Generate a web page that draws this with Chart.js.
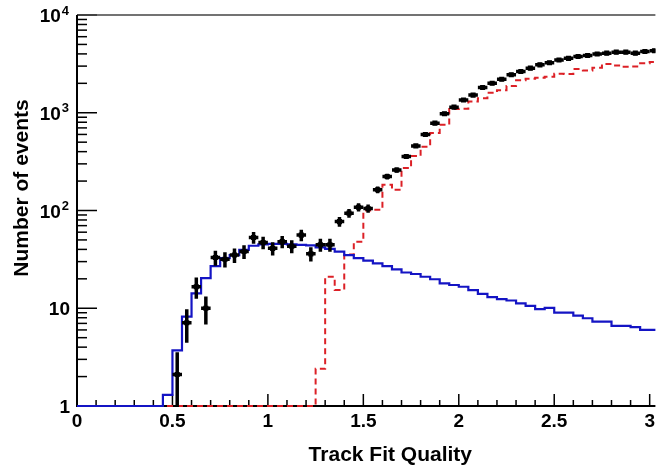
<!DOCTYPE html>
<html>
<head>
<meta charset="utf-8">
<script src="https://cdn.jsdelivr.net/npm/chart.js@4.4.1/dist/chart.umd.min.js"></script>
<style>
  html, body { margin: 0; padding: 0; background: #fff; }
</style>
</head>
<body>
<canvas id="fitq" width="659" height="466"></canvas>
<script>
// histogram binning: 61 bins of 0.05 starting at 0
const BIN_START = 0;
const BIN_WIDTH = 0.05;

// simulated signal (blue, solid)
const signalMC = [
  1, 1, 1, 1, 1, 1, 1, 1, 1, 1.3,
  3.7, 8.2, 14.2, 20.3, 27, 32.5, 35, 39.5, 43.6, 45,
  45.5, 45.5, 45, 44.5, 44, 42, 40.5, 38, 35, 32.5,
  30.7, 28.8, 27, 25, 23.2, 22.4, 21, 19.8, 18, 17.3,
  16.6, 15.3, 14, 13, 12.4, 12, 11.2, 10.6, 9.8, 10.1,
  9.0, 9.0, 8.4, 7.9, 7.3, 7.3, 6.6, 6.6, 6.4, 6.0,
  6.0
];

// simulated background (red, dashed)
const backgroundMC = [
  1, 1, 1, 1, 1, 1, 1, 1, 1, 1,
  1, 1, 1, 1, 1, 1, 1, 1, 1, 1,
  1, 1, 1, 1, 1, 2.4, 21, 15.4, 35.5, 48,
  100, 102, 183, 163, 272, 360, 450, 620, 755, 1090,
  1100, 1300, 1410, 1600, 1700, 1880, 2150, 2230, 2280, 2340,
  2500, 2490, 2800, 2700, 2890, 3150, 3050, 2950, 2980, 3200,
  3300
];

// measured events (black crosses), null where the bin is empty
const measured = [
  null, null, null, null, null, null, null, null, null, null,
  2.1, 7.1, 16.6, 10, 33, 31.7, 35, 38, 53, 47,
  41, 48, 43, 56, 36, 44.6, 44.6, 77, 94, 108,
  105, 163, 223, 260, 357, 458, 600, 783, 978, 1141,
  1350, 1515, 1815, 2000, 2200, 2450, 2640, 2860, 3090, 3250,
  3460, 3600, 3760, 3850, 3990, 4070, 4170, 4170, 4070, 4230,
  4300
];

const xMajorTicks = [0, 0.5, 1, 1.5, 2, 2.5, 3];
const xTickLabels = ['0', '0.5', '1', '1.5', '2', '2.5', '3'];
const yDecades = [1, 10, 100, 1000, 10000];
const yTickLabels = [['1', ''], ['10', ''], ['10', '2'], ['10', '3'], ['10', '4']];

const FONT = '"Liberation Sans", Arial, Helvetica, sans-serif';
const BLUE = '#1414c4';
const RED = '#dc2026';

const edge = (i) => +(BIN_START + i * BIN_WIDTH).toFixed(4);

// histogram outline: one point per low edge, plus the closing edge
function histPoints(values) {
  const pts = values.map((v, i) => ({ x: edge(i), y: v }));
  pts.push({ x: edge(values.length), y: values[values.length - 1] });
  return pts;
}

const dataPoints = measured
  .map((v, i) => (v == null ? null : { x: edge(i) + BIN_WIDTH / 2, y: v }))
  .filter(Boolean);

// ROOT-style frame: inward ticks, labels with exponents, axis titles
const frame = {
  id: 'frame',
  beforeDatasetsDraw(chart) {
    const { ctx, chartArea: a, scales: { x, y } } = chart;
    ctx.save();
    ctx.strokeStyle = '#000';
    ctx.lineWidth = 1.5;

    // minor / major ticks on x
    for (let t = 0; t <= 30; t++) {
      const v = t / 10;
      const px = x.getPixelForValue(v);
      const len = t % 5 === 0 ? 12 : 6;
      ctx.beginPath();
      ctx.moveTo(px, a.bottom);
      ctx.lineTo(px, a.bottom - len);
      ctx.stroke();
    }

    // decades and sub-decade ticks on y
    for (let d = 0; d < yDecades.length; d++) {
      const base = yDecades[d];
      const py = y.getPixelForValue(base);
      ctx.beginPath();
      ctx.moveTo(a.left, py);
      ctx.lineTo(a.left + 20, py);
      ctx.stroke();
      if (d === yDecades.length - 1) break;
      for (let m = 2; m <= 9; m++) {
        const pm = y.getPixelForValue(base * m);
        ctx.beginPath();
        ctx.moveTo(a.left, pm);
        ctx.lineTo(a.left + 10, pm);
        ctx.stroke();
      }
    }

    // frame lines
    ctx.strokeStyle = '#444';
    ctx.lineWidth = 1.5;
    ctx.beginPath();
    ctx.moveTo(a.left, a.top);
    ctx.lineTo(a.right, a.top);
    ctx.stroke();
    ctx.strokeStyle = '#000';
    ctx.lineWidth = 2;
    ctx.beginPath();
    ctx.moveTo(a.left, a.top);
    ctx.lineTo(a.left, a.bottom);
    ctx.lineTo(a.right, a.bottom);
    ctx.stroke();
    ctx.restore();
  },
  afterDatasetsDraw(chart) {
    // error bars for the measured points: bin width and sqrt(N)
    const { ctx, chartArea: a, scales: { x, y } } = chart;
    ctx.save();
    ctx.beginPath();
    ctx.rect(a.left, a.top, a.right - a.left, a.bottom - a.top + 1);
    ctx.clip();
    ctx.strokeStyle = '#000';
    ctx.lineWidth = 3.5;
    dataPoints.forEach((p) => {
      const err = Math.sqrt(p.y);
      const px = x.getPixelForValue(p.x);
      const py = y.getPixelForValue(p.y);
      const hi = y.getPixelForValue(p.y + err);
      const lo = p.y - err > 0.5 ? y.getPixelForValue(p.y - err) : a.bottom;
      ctx.beginPath();
      ctx.moveTo(x.getPixelForValue(p.x - BIN_WIDTH / 2), py);
      ctx.lineTo(x.getPixelForValue(p.x + BIN_WIDTH / 2), py);
      ctx.moveTo(px, Math.min(hi, py - 2));
      ctx.lineTo(px, Math.max(lo, py + 2));
      ctx.stroke();
    });
    ctx.restore();
  },
  afterDraw(chart) {
    const { ctx, chartArea: a, scales: { x, y } } = chart;
    ctx.save();
    ctx.fillStyle = '#000';

    // x tick labels
    ctx.font = `bold 19px ${FONT}`;
    ctx.textAlign = 'center';
    ctx.textBaseline = 'top';
    xMajorTicks.forEach((v, i) => {
      ctx.fillText(xTickLabels[i], x.getPixelForValue(v), a.bottom + 6);
    });

    // y tick labels, "10" with a raised exponent
    ctx.textBaseline = 'middle';
    ctx.textAlign = 'right';
    yDecades.forEach((v, i) => {
      const [mant, exp] = yTickLabels[i];
      const py = y.getPixelForValue(v) + 2;
      if (exp) {
        ctx.font = `bold 13px ${FONT}`;
        ctx.fillText(exp, a.left - 8, py - 6);
        const w = ctx.measureText(exp).width;
        ctx.font = `bold 19px ${FONT}`;
        ctx.fillText(mant, a.left - 9 - w, py);
      } else {
        ctx.font = `bold 19px ${FONT}`;
        ctx.fillText(mant, a.left - 7, py);
      }
    });

    // axis titles
    ctx.font = `bold 21px ${FONT}`;
    ctx.textAlign = 'right';
    ctx.textBaseline = 'alphabetic';
    ctx.fillText('Track Fit Quality', 472, 461);

    ctx.translate(28, 188);
    ctx.rotate(-Math.PI / 2);
    ctx.textAlign = 'center';
    ctx.fillText('Number of events', 0, 0);
    ctx.restore();
  }
};

// let the histograms sit on the x axis line instead of being cut by it
const histClip = { left: 0, top: 0, right: 0, bottom: 3 };

new Chart(document.getElementById('fitq'), {
  type: 'line',
  data: {
    datasets: [
      {
        label: 'Data',
        data: dataPoints,
        showLine: false,
        pointStyle: 'rect',
        pointRadius: 3.6,
        pointHoverRadius: 3.6,
        pointBackgroundColor: '#000',
        pointBorderColor: '#000',
        pointBorderWidth: 0,
        order: 0,
      },
      {
        label: 'Signal MC',
        data: histPoints(signalMC),
        stepped: 'before',
        borderColor: BLUE,
        borderWidth: 2.2,
        pointRadius: 0,
        fill: false,
        clip: histClip,
        order: 1,
      },
      {
        label: 'Background MC',
        data: histPoints(backgroundMC),
        stepped: 'before',
        borderColor: RED,
        borderWidth: 2,
        borderDash: [6, 4],
        pointRadius: 0,
        fill: false,
        clip: histClip,
        order: 2,
      },
    ],
  },
  options: {
    responsive: false,
    animation: false,
    devicePixelRatio: 1,
    layout: { padding: { left: 77, right: 0, top: 15, bottom: 60 } },
    plugins: { legend: { display: false }, tooltip: { enabled: false } },
    scales: {
      x: { type: 'linear', min: 0, max: 3.03, display: false },
      y: { type: 'logarithmic', min: 1, max: 10000, display: false },
    },
  },
  plugins: [frame],
});
</script>
</body>
</html>
